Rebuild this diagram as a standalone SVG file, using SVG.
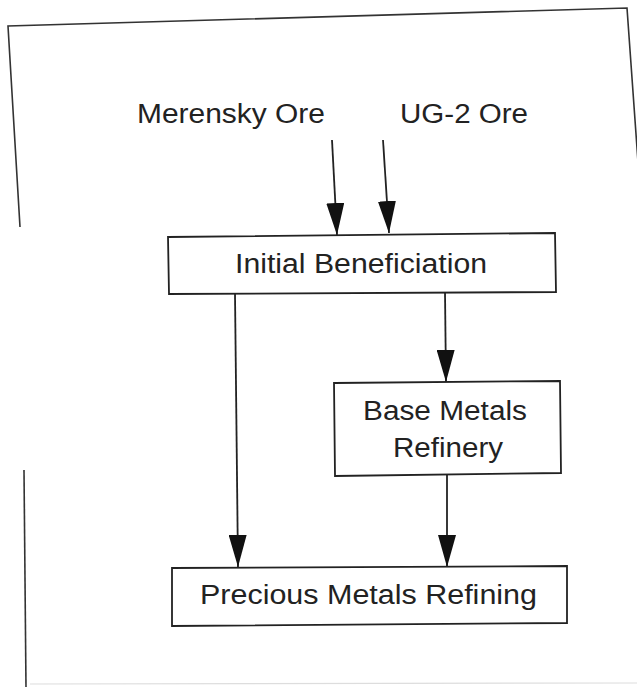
<svg xmlns="http://www.w3.org/2000/svg" width="637" height="687" viewBox="0 0 637 687">
<style>
.frame{fill:none;stroke:#333;stroke-width:1.6}
.box{fill:#fff;stroke:#222;stroke-width:1.8}
.lbl{font-family:"Liberation Sans",Arial,sans-serif;font-size:27px;fill:#222}
.con{fill:none;stroke:#222;stroke-width:1.8}
</style>
<defs>
<marker id="ah" markerUnits="userSpaceOnUse" markerWidth="32" markerHeight="18" viewBox="0 0 32 18" refX="32" refY="9" orient="auto">
<path d="M0,0 L32,9 L0,18 z" fill="#111"/>
</marker>
</defs>
<rect width="637" height="687" fill="#fff"/>
<g id="frame">
<path class="frame" d="M20,227 L8,26 L627,8 L640,190"/>
<path class="frame" d="M24,470 L26,687"/>
<path d="M30,684 L637,683" fill="none" stroke="#ddd" stroke-width="1.2"/>
</g>
<g id="connectors">
<path class="con" d="M332,140 L337,235" marker-end="url(#ah)"/>
<path class="con" d="M383,140 L389,233" marker-end="url(#ah)"/>
<path class="con" d="M235,294 L238,567" marker-end="url(#ah)"/>
<path class="con" d="M445,292 L446,382" marker-end="url(#ah)"/>
<path class="con" d="M447,475 L447,567" marker-end="url(#ah)"/>
</g>
<g id="merensky">
<text class="lbl" x="137" y="123" textLength="188" lengthAdjust="spacingAndGlyphs">Merensky Ore</text>
</g>
<g id="ug2">
<text class="lbl" x="400" y="123" textLength="128" lengthAdjust="spacingAndGlyphs">UG-2 Ore</text>
</g>
<g id="initial">
<polygon class="box" points="168,237 555,233 556,292 169,294"/>
<text class="lbl" x="235" y="273" textLength="252" lengthAdjust="spacingAndGlyphs">Initial Beneficiation</text>
</g>
<g id="base">
<polygon class="box" points="334,383 560,381 561,473 335,476"/>
<text class="lbl" x="363" y="420" textLength="164" lengthAdjust="spacingAndGlyphs">Base Metals</text>
<text class="lbl" x="393" y="457" textLength="110" lengthAdjust="spacingAndGlyphs">Refinery</text>
</g>
<g id="precious">
<polygon class="box" points="172,568 567,566 567,623 172,626"/>
<text class="lbl" x="200" y="604" textLength="337" lengthAdjust="spacingAndGlyphs">Precious Metals Refining</text>
</g>
</svg>
